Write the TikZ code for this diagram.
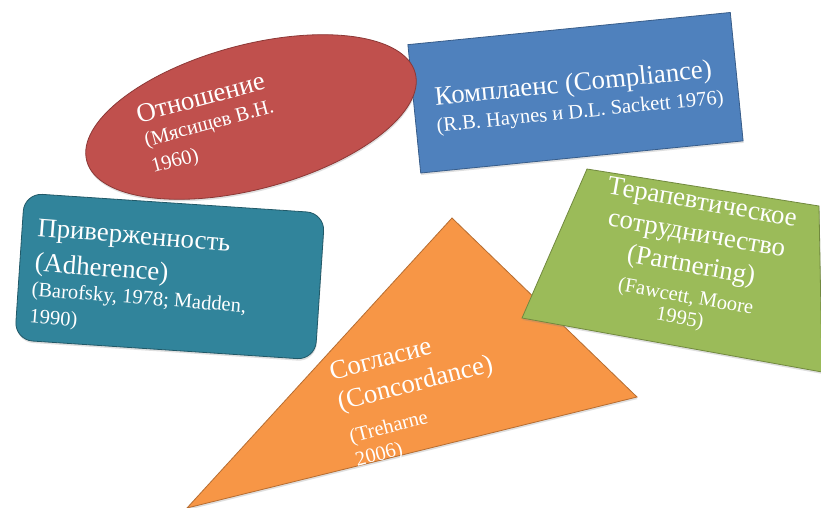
\documentclass[tikz,border=0pt]{standalone}
\usepackage{fontspec}
\setmainfont{Liberation Serif}
\usetikzlibrary{shapes.geometric,shadows}
\definecolor{cRed}{HTML}{C0504D}
\definecolor{cRedD}{HTML}{8C3836}
\definecolor{cBlue}{HTML}{4F81BD}
\definecolor{cBlueD}{HTML}{385D8A}
\definecolor{cTeal}{HTML}{31849B}
\definecolor{cTealD}{HTML}{215968}
\definecolor{cGreen}{HTML}{9BBB59}
\definecolor{cGreenD}{HTML}{71893F}
\definecolor{cOrange}{HTML}{F79646}
\definecolor{cOrangeD}{HTML}{B66D31}
\newcommand{\bigtxt}{\fontsize{26.8}{31}\selectfont}
\newcommand{\citetxt}{\fontsize{20.5}{24}\selectfont}
\begin{document}
\begin{tikzpicture}[x=1pt,y=-1pt,
  figshape/.style={line width=0.8pt, inner sep=0pt,
    drop shadow={opacity=0.25, shadow xshift=0.5pt, shadow yshift=-2pt}},
  ln/.style={text=white, inner sep=0pt, outer sep=0pt, transform shape},
  lnl/.style={ln, anchor=base west},
  lnc/.style={ln, anchor=base}]
\clip (0,0) rectangle (821,508);
\fill[white] (0,0) rectangle (821,508);

% Compliance (blue)
\node[figshape, rectangle, fill=cBlue, draw=cBlueD, minimum width=324,
  minimum height=129, rotate=5.7] (compl) at (575.5,92.75) {};
\begin{scope}[shift={(574,91.5)}, rotate=5.7]
  \node[lnc, font=\bigtxt] (complA) at (0,0) {Комплаенс (Compliance)};
  \node[lnc, font=\citetxt] (complB) at (4,27) {(R.B. Haynes и D.L. Sackett 1976)};
\end{scope}

% Adherence (teal)
\node[figshape, rectangle, rounded corners=18, fill=cTeal, draw=cTealD,
  minimum width=301, minimum height=147, rotate=-3.8] (adh) at (169.75,276.5) {};
\begin{scope}[shift={(37,236)}, rotate=-4.5]
  \node[lnl, font=\bigtxt] (adhA) at (0,0) {Приверженность};
  \node[lnl, font=\bigtxt] (adhB) at (0,35) {(Adherence)};
  \node[lnl, font=\citetxt] (adhC) at (-1,60) {(Barofsky, 1978; Madden,};
  \node[lnl, font=\citetxt] (adhD) at (-1,87) {1990)};
\end{scope}

% Relation (red ellipse)
\node[figshape, ellipse, fill=cRed, draw=cRedD, minimum width=340,
  minimum height=144, rotate=15] (rel) at (251,117) {};
\begin{scope}[shift={(139,123)}, rotate=15]
  \node[lnl, font=\bigtxt] (relA) at (0,0) {Отношение};
  \node[lnl, font=\citetxt] (relB) at (1,25) {(Мясищев В.Н.};
  \node[lnl, font=\citetxt] (relC) at (1,52) {1960)};
\end{scope}

% Concordance (orange triangle)
\coordinate (oA) at (452,218);
\coordinate (oB) at (637,397);
\coordinate (oC) at (187,508);
\path[figshape, fill=cOrange, draw=cOrangeD] (oA) -- (oB) -- (oC) -- cycle;
\begin{scope}[shift={(332,380)}, rotate=14.5]
  \node[lnl, font=\bigtxt] (conA) at (0,0) {Согласие};
  \node[lnl, font=\bigtxt] (conB) at (0,32) {(Concordance)};
  \node[lnl, font=\citetxt] (conC) at (3,66) {(Treharne};
  \node[lnl, font=\citetxt] (conD) at (3,90) {2006)};
\end{scope}

% Partnering (green)
\coordinate (gA) at (587,169);
\coordinate (gB) at (819,206);
\coordinate (gC) at (822,372);
\coordinate (gD) at (522,318);
\path[figshape, fill=cGreen, draw=cGreenD] (gA) -- (gB) -- (gC) -- (gD) -- cycle;
\begin{scope}[shift={(701,210)}, rotate=-10]
  \node[lnc, font=\bigtxt] (parA) at (0,0) {Терапевтическое};
  \node[lnc, font=\bigtxt] (parB) at (0,32) {сотрудничество};
  \node[lnc, font=\bigtxt] (parC) at (0,64) {(Partnering)};
  \node[lnc, font=\citetxt] (parD) at (0,94) {(Fawcett, Moore};
  \node[lnc, font=\citetxt] (parE) at (-2,116) {1995)};
\end{scope}
\end{tikzpicture}
\end{document}
